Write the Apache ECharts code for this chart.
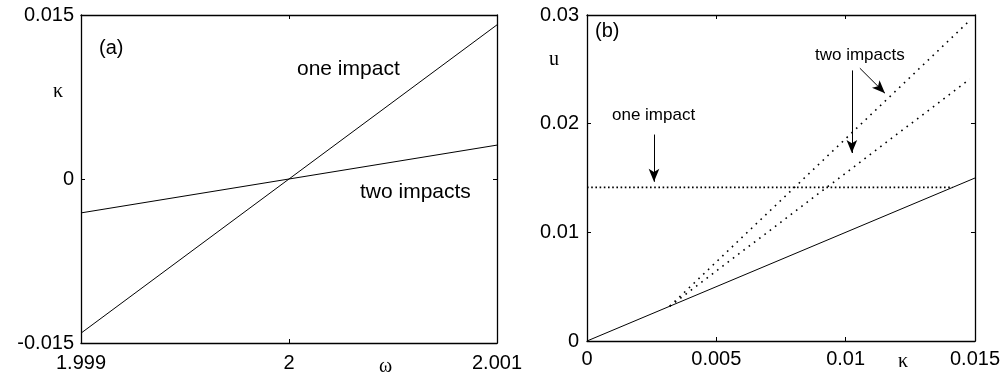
<!DOCTYPE html>
<html>
<head>
<meta charset="utf-8">
<script src="https://cdn.jsdelivr.net/npm/echarts@6/dist/echarts.min.js"></script>
<style>
  html, body { margin: 0; padding: 0; background: #fff; }
  #main { width: 1003px; height: 374px; }
</style>
</head>
<body>
<div id="main"></div>
<script>
// panel (a): kappa vs omega
const omegaTicks = [1.999, 2, 2.001];
const kappaTicksA = [-0.015, 0, 0.015];
const aOneImpact = [[1.999, -0.0141], [2.001, 0.0141]];
const aTwoImpacts = [[1.999, -0.0031], [2.001, 0.0031]];

// panel (b): u vs kappa
const kappaTicksB = [0, 0.005, 0.01, 0.015];
const uTicks = [0, 0.01, 0.02, 0.03];
const bSolid = [[0, 0], [0.015, 0.015]];
const bOneImpact = [[0, 0.01414], [0.01414, 0.01414]];
const bTwoUpper = [[0.0032, 0.0032], [0.0148, 0.0295]];
const bTwoLower = [[0.0032, 0.0032], [0.0148, 0.0241]];

// annotation arrows in panel (b), data coordinates
const arrowOne = [[0.00259, 0.0190], [0.00259, 0.01465]];
const arrowTwoA = [[0.01024, 0.0249], [0.01024, 0.0173]];
const arrowTwoB = [[0.01055, 0.0251], [0.01152, 0.0228]];

var chartDom = document.getElementById('main');
var myChart = echarts.init(chartDom);

const FONT = 'Liberation Sans';
const fmt = v => String(+(+v).toFixed(4));

function axis(gridIndex, pos, min, max, interval, showLabels, margin) {
  return {
    type: 'value',
    gridIndex: gridIndex,
    position: pos,
    min: min,
    max: max,
    interval: interval,
    splitLine: { show: false },
    axisLine: { show: true, onZero: false, lineStyle: { color: '#000', width: 1.3 } },
    axisTick: { show: true, inside: true, length: 4, lineStyle: { color: '#000' } },
    axisLabel: {
      show: showLabels,
      color: '#000',
      fontFamily: FONT,
      fontSize: 20,
      margin: margin || 6,
      showMinLabel: true,
      showMaxLabel: true,
      formatter: fmt
    }
  };
}

function line(xi, yi, data, type, width) {
  return {
    type: 'line',
    xAxisIndex: xi,
    yAxisIndex: yi,
    data: data,
    showSymbol: false,
    silent: true,
    lineStyle: { color: '#000', width: width, type: type }
  };
}

function arrows(list) {
  return {
    silent: true,
    symbol: ['none', 'arrow'],
    symbolSize: [8, 13],
    label: { show: false },
    lineStyle: { color: '#000', width: 1, type: 'solid' },
    data: list.map(a => [{ coord: a[0] }, { coord: a[1] }])
  };
}

function text(x, y, str, size, family) {
  return {
    type: 'text',
    x: x,
    y: y,
    style: {
      text: str,
      fill: '#000',
      font: size + 'px "' + (family || FONT) + '"',
      textVerticalAlign: 'middle'
    }
  };
}

const markB = line(2, 2, bSolid, 'solid', 1);
markB.markLine = arrows([arrowOne, arrowTwoA, arrowTwoB]);

option = {
  animation: false,
  grid: [
    { left: 81, top: 15, width: 416, height: 328 },
    { left: 587, top: 15, width: 388, height: 326 }
  ],
  xAxis: [
    axis(0, 'bottom', 1.999, 2.001, 0.001, true, 10),
    axis(0, 'top', 1.999, 2.001, 0.001, false),
    axis(1, 'bottom', 0, 0.015, 0.005, true, 8),
    axis(1, 'top', 0, 0.015, 0.005, false)
  ],
  yAxis: [
    axis(0, 'left', -0.015, 0.015, 0.015, true, 7),
    axis(0, 'right', -0.015, 0.015, 0.015, false),
    axis(1, 'left', 0, 0.03, 0.01, true, 8),
    axis(1, 'right', 0, 0.03, 0.01, false)
  ],
  series: [
    line(0, 0, aOneImpact, 'solid', 1),
    line(0, 0, aTwoImpacts, 'solid', 1),
    markB,
    line(2, 2, bOneImpact, [1.6, 2.6], 1.6),
    line(2, 2, bTwoUpper, [1.6, 5], 1.6),
    line(2, 2, bTwoLower, [1.6, 5], 1.6)
  ],
  graphic: [
    text(99, 48, '(a)', 20),
    text(297, 69, 'one impact', 21),
    text(360, 192, 'two impacts', 21),
    text(53, 92, 'κ', 20, 'Liberation Serif'),
    text(379, 367, 'ω', 20, 'Liberation Serif'),
    text(595, 31, '(b)', 20),
    text(612, 115, 'one impact', 17),
    text(815, 55, 'two impacts', 17),
    text(549, 60, 'u', 20, 'Liberation Serif'),
    text(898, 362, 'κ', 20, 'Liberation Serif')
  ]
};

option && myChart.setOption(option);
</script>
</body>
</html>
